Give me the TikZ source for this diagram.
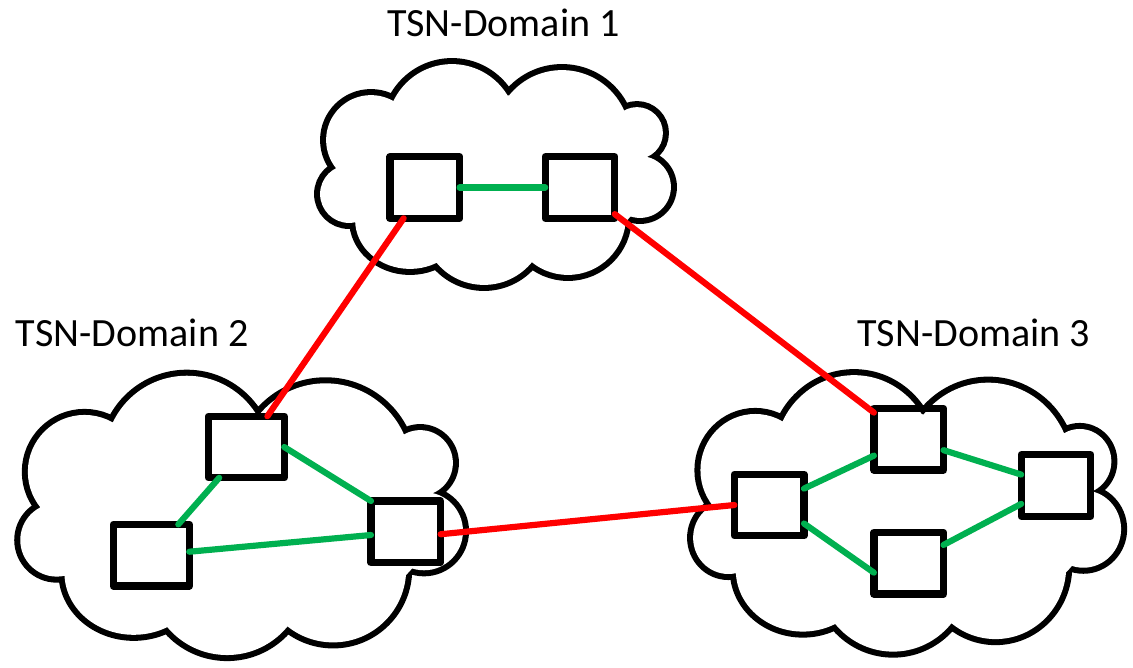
\documentclass[tikz,border=0pt]{standalone}
\usepackage{fontspec}
\setmainfont{Carlito}
\usepackage{tikz}

\definecolor{linkgreen}{RGB}{0,176,80}
\definecolor{linkred}{RGB}{255,0,0}

\tikzset{
	cloudline/.style={draw=black, line width=8.6pt},
	switchbox/.style={draw=black, line width=5.2pt, line join=round, inner sep=0pt, outer sep=0pt,
		minimum width=1.74cm, minimum height=1.54cm},
	widebox/.style={switchbox, minimum width=1.9cm},
	domainlabel/.style={font=\fontsize{28.5}{32}\selectfont, anchor=base, inner sep=0pt},
	intralink/.style={draw=linkgreen, line width=4.4pt, line cap=round},
	interlink/.style={draw=linkred, line width=4.4pt, line cap=round}
}

% puffs of one cloud, centred on (0,0), in px
\newcommand{\cloudlobes}{%
	(-124,-34.6) circle[radius=44.9]
	(-146,19.4) circle[radius=28.9]
	(-85,45.4) ellipse[x radius=54.9, y radius=48.9]
	(-11,48.4) circle[radius=61.9]
	(73,42.4) circle[radius=57.9]
	(145,12.4) circle[radius=30.9]
	(142,-41.6) circle[radius=25.9]
	(67,-36.6) circle[radius=67.9]
	(-43,-45.6) circle[radius=64.9]}

\begin{document}
\begin{tikzpicture}[x=0.025cm, y=-0.025cm]
	\useasboundingbox (0,0) rectangle (1133,667);

	% clouds: thick outline first, white inside on top
	\begin{scope}[shift={(495,174.6)}]
		\draw[cloudline] \cloudlobes;
		\fill[white] \cloudlobes (0,5.4) ellipse[x radius=150, y radius=85];
	\end{scope}
	\begin{scope}[shift={(241,515.5)}, xscale=1.262, yscale=1.265]
		\draw[cloudline] \cloudlobes;
		\fill[white] \cloudlobes (0,5.4) ellipse[x radius=150, y radius=85];
	\end{scope}
	\begin{scope}[shift={(906.5,513.5)}, xscale=1.22, yscale=1.252]
		\draw[cloudline] \cloudlobes;
		\fill[white] \cloudlobes (0,5.4) ellipse[x radius=150, y radius=85];
	\end{scope}

	\node[domainlabel] (lbl1) at (503.5,36.7) {TSN-Domain 1};
	\node[domainlabel] (lbl2) at (132.2,346.7) {TSN-Domain 2};
	\node[domainlabel] (lbl3) at (973.7,346.7) {TSN-Domain 3};

	% domain 1
	\node[switchbox] (A) at (424.8,187.5) {};
	\node[switchbox] (B) at (580,187.5) {};
	% domain 2
	\node[widebox] (C) at (246.2,447) {};
	\node[widebox] (D) at (151.3,555.2) {};
	\node[switchbox] (E) at (405.8,531.8) {};
	% domain 3
	\node[switchbox] (F) at (769.2,505) {};
	\node[switchbox] (G) at (908.7,439.2) {};
	\node[switchbox] (H) at (908.7,563.3) {};
	\node[switchbox] (I) at (1056,485.5) {};

	\draw[intralink] (A) -- (B);
	\draw[intralink] (C) -- (D);
	\draw[intralink] (C.east) -- (E.north west);
	\draw[intralink] (D) -- (E);
	\draw[intralink] (F) -- (G);
	\draw[intralink] (F.-28) -- (H.195);
	\draw[intralink] (G) -- (I);
	\draw[intralink] (H) -- (I);

	\draw[interlink] (A) -- (C);
	\draw[interlink] (B) -- (G);
	\draw[interlink] (E.-4) -- (F.west);
\end{tikzpicture}
\end{document}
